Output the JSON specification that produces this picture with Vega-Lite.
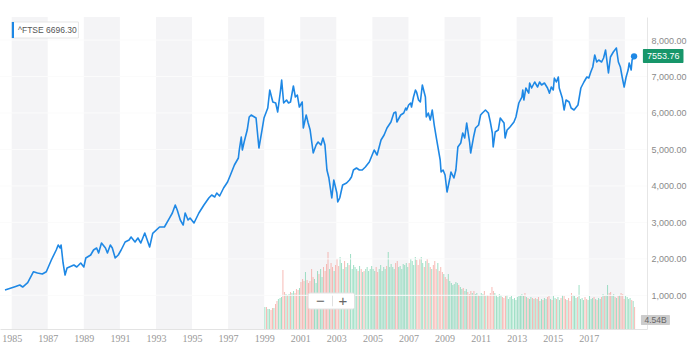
{
"$schema": "https://vega.github.io/schema/vega-lite/v6.json",
"width": 647, "height": 312,
"autosize": {"type": "none"},
"padding": {"left": 0, "top": 17, "right": 43, "bottom": 27},
"background": "white",
"config": {"view": {"stroke": null}},
"datasets": {
"bands": [{"a":1985,"b":1987},{"a":1989,"b":1991},{"a":1993,"b":1995},{"a":1997,"b":1999},{"a":2001,"b":2003},{"a":2005,"b":2007},{"a":2009,"b":2011},{"a":2013,"b":2015},{"a":2017,"b":2019}],
"grid": [{"p":1000},{"p":2000},{"p":3000},{"p":4000},{"p":5000},{"p":6000},{"p":7000},{"p":8000}],
"price": [
{"t":1984.63,"c":1146},{"t":1985.18,"c":1237},{"t":1985.45,"c":1283},{"t":1985.61,"c":1228},{"t":1985.89,"c":1346},{"t":1986.21,"c":1648},{"t":1986.43,"c":1612},{"t":1986.70,"c":1585},{"t":1986.92,"c":1648},{"t":1987.20,"c":1969},{"t":1987.47,"c":2243},{"t":1987.58,"c":2380},{"t":1987.69,"c":2298},{"t":1987.74,"c":2380},{"t":1987.85,"c":1887},{"t":1987.96,"c":1557},{"t":1988.07,"c":1749},{"t":1988.45,"c":1832},{"t":1988.61,"c":1777},{"t":1988.83,"c":1887},{"t":1989.00,"c":1777},{"t":1989.11,"c":2024},{"t":1989.38,"c":2106},{"t":1989.54,"c":2243},{"t":1989.71,"c":2298},{"t":1989.82,"c":2161},{"t":1989.98,"c":2435},{"t":1990.20,"c":2298},{"t":1990.31,"c":2161},{"t":1990.47,"c":2380},{"t":1990.58,"c":2298},{"t":1990.74,"c":2024},{"t":1990.91,"c":2106},{"t":1991.07,"c":2243},{"t":1991.29,"c":2462},{"t":1991.51,"c":2517},{"t":1991.62,"c":2599},{"t":1991.84,"c":2462},{"t":1992.00,"c":2572},{"t":1992.16,"c":2435},{"t":1992.38,"c":2709},{"t":1992.65,"c":2325},{"t":1992.82,"c":2700},{"t":1993.20,"c":2874},{"t":1993.47,"c":2874},{"t":1993.75,"c":3120},{"t":1993.91,"c":3258},{"t":1994.07,"c":3477},{"t":1994.18,"c":3340},{"t":1994.35,"c":3066},{"t":1994.51,"c":2928},{"t":1994.62,"c":3258},{"t":1994.78,"c":3066},{"t":1994.89,"c":3120},{"t":1995.11,"c":2983},{"t":1995.38,"c":3258},{"t":1995.66,"c":3477},{"t":1995.93,"c":3669},{"t":1996.09,"c":3751},{"t":1996.26,"c":3696},{"t":1996.37,"c":3806},{"t":1996.53,"c":3724},{"t":1996.75,"c":3943},{"t":1996.97,"c":4108},{"t":1997.13,"c":4299},{"t":1997.35,"c":4574},{"t":1997.57,"c":4766},{"t":1997.62,"c":4985},{"t":1997.73,"c":5341},{"t":1997.79,"c":4985},{"t":1997.89,"c":5204},{"t":1998.06,"c":5533},{"t":1998.17,"c":5890},{"t":1998.28,"c":5945},{"t":1998.55,"c":5862},{"t":1998.71,"c":5040},{"t":1998.88,"c":5533},{"t":1998.99,"c":5862},{"t":1999.20,"c":6137},{"t":1999.31,"c":6630},{"t":1999.48,"c":6301},{"t":1999.64,"c":6274},{"t":1999.75,"c":6027},{"t":1999.91,"c":6630},{"t":1999.97,"c":6904},{"t":2000.08,"c":6274},{"t":2000.24,"c":6356},{"t":2000.35,"c":6274},{"t":2000.46,"c":6301},{"t":2000.62,"c":6740},{"t":2000.73,"c":6438},{"t":2000.84,"c":6493},{"t":2000.95,"c":6164},{"t":2001.11,"c":6301},{"t":2001.17,"c":5588},{"t":2001.33,"c":5945},{"t":2001.44,"c":5725},{"t":2001.55,"c":5533},{"t":2001.72,"c":4903},{"t":2001.88,"c":5122},{"t":2001.99,"c":5204},{"t":2002.15,"c":5122},{"t":2002.26,"c":5314},{"t":2002.37,"c":5122},{"t":2002.48,"c":4437},{"t":2002.59,"c":4217},{"t":2002.75,"c":3669},{"t":2002.86,"c":4162},{"t":2003.03,"c":3806},{"t":2003.08,"c":3559},{"t":2003.19,"c":3669},{"t":2003.35,"c":4025},{"t":2003.57,"c":4080},{"t":2003.73,"c":4162},{"t":2003.84,"c":4245},{"t":2003.95,"c":4437},{"t":2004.12,"c":4491},{"t":2004.28,"c":4437},{"t":2004.44,"c":4437},{"t":2004.61,"c":4519},{"t":2004.83,"c":4656},{"t":2005.10,"c":4985},{"t":2005.26,"c":4848},{"t":2005.48,"c":5259},{"t":2005.65,"c":5396},{"t":2005.81,"c":5588},{"t":2006.03,"c":5753},{"t":2006.19,"c":5999},{"t":2006.30,"c":6027},{"t":2006.36,"c":5753},{"t":2006.57,"c":5945},{"t":2006.74,"c":5999},{"t":2006.85,"c":6137},{"t":2006.90,"c":6082},{"t":2007.01,"c":6219},{"t":2007.12,"c":6274},{"t":2007.17,"c":6164},{"t":2007.28,"c":6438},{"t":2007.39,"c":6630},{"t":2007.45,"c":6575},{"t":2007.56,"c":6356},{"t":2007.66,"c":6301},{"t":2007.77,"c":6767},{"t":2007.94,"c":6438},{"t":2007.99,"c":5890},{"t":2008.10,"c":5999},{"t":2008.21,"c":5808},{"t":2008.32,"c":6082},{"t":2008.43,"c":5670},{"t":2008.54,"c":5341},{"t":2008.76,"c":4711},{"t":2008.81,"c":4382},{"t":2008.92,"c":4437},{"t":2009.03,"c":4299},{"t":2009.14,"c":3833},{"t":2009.30,"c":4217},{"t":2009.36,"c":4382},{"t":2009.52,"c":4217},{"t":2009.63,"c":4437},{"t":2009.74,"c":5067},{"t":2009.90,"c":5177},{"t":2010.01,"c":5451},{"t":2010.12,"c":5314},{"t":2010.23,"c":5725},{"t":2010.39,"c":5204},{"t":2010.45,"c":4903},{"t":2010.61,"c":5341},{"t":2010.72,"c":5588},{"t":2010.89,"c":5670},{"t":2011.00,"c":5945},{"t":2011.10,"c":5999},{"t":2011.27,"c":6082},{"t":2011.43,"c":5999},{"t":2011.54,"c":5753},{"t":2011.65,"c":5451},{"t":2011.70,"c":5067},{"t":2011.81,"c":5479},{"t":2011.98,"c":5533},{"t":2012.09,"c":5862},{"t":2012.30,"c":5725},{"t":2012.36,"c":5314},{"t":2012.47,"c":5533},{"t":2012.63,"c":5616},{"t":2012.85,"c":5753},{"t":2012.96,"c":5890},{"t":2013.12,"c":6274},{"t":2013.29,"c":6438},{"t":2013.34,"c":6630},{"t":2013.40,"c":6356},{"t":2013.51,"c":6685},{"t":2013.67,"c":6544},{"t":2013.72,"c":6822},{"t":2013.83,"c":6685},{"t":2014.00,"c":6850},{"t":2014.16,"c":6712},{"t":2014.27,"c":6850},{"t":2014.38,"c":6767},{"t":2014.54,"c":6822},{"t":2014.71,"c":6685},{"t":2014.82,"c":6544},{"t":2014.92,"c":6712},{"t":2015.03,"c":6630},{"t":2015.09,"c":6959},{"t":2015.20,"c":6850},{"t":2015.31,"c":6987},{"t":2015.36,"c":6685},{"t":2015.53,"c":6411},{"t":2015.63,"c":6082},{"t":2015.74,"c":6356},{"t":2015.91,"c":6301},{"t":2016.02,"c":6137},{"t":2016.18,"c":6082},{"t":2016.40,"c":6219},{"t":2016.56,"c":6685},{"t":2016.73,"c":6850},{"t":2016.89,"c":6987},{"t":2017.00,"c":6959},{"t":2017.11,"c":7124},{"t":2017.22,"c":7261},{"t":2017.33,"c":7590},{"t":2017.44,"c":7398},{"t":2017.55,"c":7453},{"t":2017.71,"c":7398},{"t":2017.82,"c":7508},{"t":2017.93,"c":7727},{"t":2018.09,"c":7100},{"t":2018.20,"c":7535},{"t":2018.36,"c":7672},{"t":2018.53,"c":7782},{"t":2018.64,"c":7398},{"t":2018.75,"c":7261},{"t":2018.85,"c":6987},{"t":2018.96,"c":6712},{"t":2019.07,"c":6987},{"t":2019.18,"c":7178},{"t":2019.24,"c":7371},{"t":2019.35,"c":7178},{"t":2019.40,"c":7453},{"t":2019.51,"c":7554}
],
"vol": [
{"t":1999.04,"v":4.4,"d":"u"},{"t":1999.13,"v":4.4,"d":"d"},{"t":1999.21,"v":4.0,"d":"u"},{"t":1999.29,"v":4.0,"d":"u"},{"t":1999.38,"v":3.8,"d":"d"},{"t":1999.46,"v":4.2,"d":"d"},{"t":1999.54,"v":4.2,"d":"u"},{"t":1999.63,"v":5.0,"d":"d"},{"t":1999.71,"v":5.6,"d":"d"},{"t":1999.79,"v":6.0,"d":"u"},{"t":1999.88,"v":6.2,"d":"u"},{"t":1999.96,"v":6.4,"d":"u"},
{"t":2000.04,"v":11.8,"d":"d"},{"t":2000.13,"v":7.4,"d":"d"},{"t":2000.21,"v":7.0,"d":"u"},{"t":2000.29,"v":6.8,"d":"d"},{"t":2000.38,"v":7.0,"d":"u"},{"t":2000.46,"v":7.4,"d":"d"},{"t":2000.54,"v":7.2,"d":"u"},{"t":2000.63,"v":7.6,"d":"u"},{"t":2000.71,"v":7.2,"d":"d"},{"t":2000.79,"v":8.0,"d":"d"},{"t":2000.88,"v":7.8,"d":"d"},{"t":2000.96,"v":8.2,"d":"u"},
{"t":2001.04,"v":9.4,"d":"d"},{"t":2001.13,"v":10.0,"d":"d"},{"t":2001.21,"v":9.6,"d":"d"},{"t":2001.29,"v":11.4,"d":"u"},{"t":2001.38,"v":9.8,"d":"d"},{"t":2001.46,"v":9.2,"d":"d"},{"t":2001.54,"v":9.6,"d":"d"},{"t":2001.63,"v":12.0,"d":"d"},{"t":2001.71,"v":10.4,"d":"d"},{"t":2001.79,"v":10.0,"d":"u"},{"t":2001.88,"v":9.2,"d":"u"},{"t":2001.96,"v":11.6,"d":"u"},
{"t":2002.04,"v":11.0,"d":"d"},{"t":2002.13,"v":12.0,"d":"u"},{"t":2002.21,"v":10.4,"d":"u"},{"t":2002.29,"v":12.4,"d":"d"},{"t":2002.38,"v":11.6,"d":"d"},{"t":2002.46,"v":13.0,"d":"d"},{"t":2002.54,"v":15.4,"d":"d"},{"t":2002.63,"v":12.0,"d":"u"},{"t":2002.71,"v":13.2,"d":"d"},{"t":2002.79,"v":12.4,"d":"d"},{"t":2002.88,"v":11.6,"d":"u"},{"t":2002.96,"v":12.8,"d":"d"},
{"t":2003.04,"v":14.0,"d":"d"},{"t":2003.13,"v":12.6,"d":"d"},{"t":2003.21,"v":14.4,"d":"u"},{"t":2003.29,"v":13.2,"d":"u"},{"t":2003.38,"v":12.0,"d":"u"},{"t":2003.46,"v":13.6,"d":"d"},{"t":2003.54,"v":12.4,"d":"u"},{"t":2003.63,"v":13.2,"d":"u"},{"t":2003.71,"v":12.8,"d":"d"},{"t":2003.79,"v":15.0,"d":"u"},{"t":2003.88,"v":12.0,"d":"u"},{"t":2003.96,"v":12.8,"d":"u"},
{"t":2004.04,"v":12.4,"d":"u"},{"t":2004.13,"v":12.0,"d":"u"},{"t":2004.21,"v":11.6,"d":"d"},{"t":2004.29,"v":12.6,"d":"u"},{"t":2004.38,"v":12.0,"d":"d"},{"t":2004.46,"v":11.4,"d":"u"},{"t":2004.54,"v":11.6,"d":"d"},{"t":2004.63,"v":12.0,"d":"u"},{"t":2004.71,"v":12.4,"d":"u"},{"t":2004.79,"v":11.6,"d":"u"},{"t":2004.88,"v":12.0,"d":"u"},{"t":2004.96,"v":12.6,"d":"u"},
{"t":2005.04,"v":12.0,"d":"u"},{"t":2005.13,"v":11.6,"d":"u"},{"t":2005.21,"v":12.4,"d":"d"},{"t":2005.29,"v":11.4,"d":"d"},{"t":2005.38,"v":12.0,"d":"u"},{"t":2005.46,"v":12.8,"d":"u"},{"t":2005.54,"v":11.6,"d":"u"},{"t":2005.63,"v":12.4,"d":"u"},{"t":2005.71,"v":12.0,"d":"u"},{"t":2005.79,"v":12.6,"d":"d"},{"t":2005.88,"v":15.4,"d":"u"},{"t":2005.96,"v":12.4,"d":"u"},
{"t":2006.04,"v":13.0,"d":"u"},{"t":2006.13,"v":12.4,"d":"u"},{"t":2006.21,"v":12.0,"d":"u"},{"t":2006.29,"v":13.2,"d":"d"},{"t":2006.38,"v":13.6,"d":"d"},{"t":2006.46,"v":12.4,"d":"u"},{"t":2006.54,"v":12.6,"d":"u"},{"t":2006.63,"v":12.0,"d":"u"},{"t":2006.71,"v":13.0,"d":"u"},{"t":2006.79,"v":12.8,"d":"u"},{"t":2006.88,"v":13.2,"d":"u"},{"t":2006.96,"v":12.4,"d":"u"},
{"t":2007.04,"v":13.2,"d":"d"},{"t":2007.13,"v":14.0,"d":"u"},{"t":2007.21,"v":13.6,"d":"u"},{"t":2007.29,"v":12.8,"d":"u"},{"t":2007.38,"v":14.4,"d":"u"},{"t":2007.46,"v":13.8,"d":"d"},{"t":2007.54,"v":12.8,"d":"d"},{"t":2007.63,"v":14.0,"d":"d"},{"t":2007.71,"v":14.4,"d":"u"},{"t":2007.79,"v":13.2,"d":"u"},{"t":2007.88,"v":12.4,"d":"d"},{"t":2007.96,"v":13.6,"d":"u"},
{"t":2008.04,"v":14.0,"d":"d"},{"t":2008.13,"v":13.2,"d":"u"},{"t":2008.21,"v":12.4,"d":"d"},{"t":2008.29,"v":12.0,"d":"u"},{"t":2008.38,"v":12.8,"d":"d"},{"t":2008.46,"v":13.6,"d":"d"},{"t":2008.54,"v":12.0,"d":"d"},{"t":2008.63,"v":13.2,"d":"u"},{"t":2008.71,"v":11.6,"d":"d"},{"t":2008.79,"v":12.4,"d":"d"},{"t":2008.88,"v":11.4,"d":"d"},{"t":2008.96,"v":11.0,"d":"u"},
{"t":2009.04,"v":10.4,"d":"d"},{"t":2009.13,"v":10.0,"d":"d"},{"t":2009.21,"v":11.0,"d":"u"},{"t":2009.29,"v":9.6,"d":"u"},{"t":2009.38,"v":9.2,"d":"u"},{"t":2009.46,"v":8.8,"d":"u"},{"t":2009.54,"v":9.0,"d":"u"},{"t":2009.63,"v":9.4,"d":"u"},{"t":2009.71,"v":9.2,"d":"u"},{"t":2009.79,"v":8.8,"d":"d"},{"t":2009.88,"v":8.4,"d":"u"},{"t":2009.96,"v":8.0,"d":"u"},
{"t":2010.04,"v":8.2,"d":"d"},{"t":2010.13,"v":7.6,"d":"u"},{"t":2010.21,"v":8.0,"d":"u"},{"t":2010.29,"v":7.4,"d":"d"},{"t":2010.38,"v":7.0,"d":"d"},{"t":2010.46,"v":7.6,"d":"d"},{"t":2010.54,"v":7.2,"d":"u"},{"t":2010.63,"v":7.6,"d":"d"},{"t":2010.71,"v":7.0,"d":"u"},{"t":2010.79,"v":7.2,"d":"u"},{"t":2010.88,"v":6.8,"d":"d"},{"t":2010.96,"v":6.6,"d":"u"},
{"t":2011.04,"v":7.2,"d":"u"},{"t":2011.13,"v":7.0,"d":"u"},{"t":2011.21,"v":7.6,"d":"d"},{"t":2011.29,"v":6.6,"d":"u"},{"t":2011.38,"v":6.8,"d":"d"},{"t":2011.46,"v":6.6,"d":"d"},{"t":2011.54,"v":7.2,"d":"d"},{"t":2011.63,"v":8.4,"d":"d"},{"t":2011.71,"v":7.6,"d":"d"},{"t":2011.79,"v":7.2,"d":"u"},{"t":2011.88,"v":6.8,"d":"u"},{"t":2011.96,"v":6.4,"d":"u"},
{"t":2012.04,"v":7.0,"d":"u"},{"t":2012.13,"v":6.8,"d":"u"},{"t":2012.21,"v":6.4,"d":"d"},{"t":2012.29,"v":6.2,"d":"d"},{"t":2012.38,"v":6.6,"d":"d"},{"t":2012.46,"v":6.8,"d":"u"},{"t":2012.54,"v":6.0,"d":"u"},{"t":2012.63,"v":6.4,"d":"u"},{"t":2012.71,"v":6.6,"d":"u"},{"t":2012.79,"v":6.0,"d":"u"},{"t":2012.88,"v":6.2,"d":"u"},{"t":2012.96,"v":5.8,"d":"u"},
{"t":2013.04,"v":6.4,"d":"u"},{"t":2013.13,"v":6.6,"d":"u"},{"t":2013.21,"v":6.8,"d":"u"},{"t":2013.29,"v":7.0,"d":"u"},{"t":2013.38,"v":6.6,"d":"u"},{"t":2013.46,"v":7.2,"d":"d"},{"t":2013.54,"v":6.4,"d":"u"},{"t":2013.63,"v":6.2,"d":"d"},{"t":2013.71,"v":6.0,"d":"u"},{"t":2013.79,"v":6.4,"d":"u"},{"t":2013.88,"v":6.2,"d":"d"},{"t":2013.96,"v":6.0,"d":"u"},
{"t":2014.04,"v":6.2,"d":"d"},{"t":2014.13,"v":6.0,"d":"u"},{"t":2014.21,"v":6.4,"d":"d"},{"t":2014.29,"v":5.6,"d":"u"},{"t":2014.38,"v":6.0,"d":"u"},{"t":2014.46,"v":5.8,"d":"d"},{"t":2014.54,"v":6.2,"d":"u"},{"t":2014.63,"v":6.0,"d":"u"},{"t":2014.71,"v":6.4,"d":"d"},{"t":2014.79,"v":6.6,"d":"d"},{"t":2014.88,"v":6.0,"d":"u"},{"t":2014.96,"v":5.8,"d":"d"},
{"t":2015.04,"v":6.6,"d":"u"},{"t":2015.13,"v":6.2,"d":"u"},{"t":2015.21,"v":6.0,"d":"d"},{"t":2015.29,"v":6.4,"d":"u"},{"t":2015.38,"v":5.8,"d":"u"},{"t":2015.46,"v":6.2,"d":"d"},{"t":2015.54,"v":6.8,"d":"u"},{"t":2015.63,"v":6.6,"d":"d"},{"t":2015.71,"v":6.0,"d":"d"},{"t":2015.79,"v":5.8,"d":"u"},{"t":2015.88,"v":6.2,"d":"d"},{"t":2015.96,"v":5.6,"d":"d"},
{"t":2016.04,"v":7.2,"d":"d"},{"t":2016.13,"v":6.8,"d":"u"},{"t":2016.21,"v":6.6,"d":"u"},{"t":2016.29,"v":6.2,"d":"u"},{"t":2016.38,"v":6.4,"d":"d"},{"t":2016.46,"v":8.8,"d":"u"},{"t":2016.54,"v":6.0,"d":"u"},{"t":2016.63,"v":6.2,"d":"u"},{"t":2016.71,"v":5.8,"d":"u"},{"t":2016.79,"v":6.4,"d":"d"},{"t":2016.88,"v":6.0,"d":"d"},{"t":2016.96,"v":5.8,"d":"u"},
{"t":2017.04,"v":6.6,"d":"u"},{"t":2017.13,"v":6.0,"d":"u"},{"t":2017.21,"v":6.2,"d":"u"},{"t":2017.29,"v":6.4,"d":"d"},{"t":2017.38,"v":6.0,"d":"u"},{"t":2017.46,"v":5.8,"d":"d"},{"t":2017.54,"v":6.2,"d":"u"},{"t":2017.63,"v":6.0,"d":"u"},{"t":2017.71,"v":6.4,"d":"d"},{"t":2017.79,"v":7.0,"d":"u"},{"t":2017.88,"v":6.6,"d":"d"},{"t":2017.96,"v":6.8,"d":"u"},
{"t":2018.04,"v":8.8,"d":"u"},{"t":2018.13,"v":7.2,"d":"d"},{"t":2018.21,"v":7.4,"d":"d"},{"t":2018.29,"v":6.6,"d":"u"},{"t":2018.38,"v":7.0,"d":"u"},{"t":2018.46,"v":6.4,"d":"d"},{"t":2018.54,"v":6.2,"d":"u"},{"t":2018.63,"v":6.6,"d":"d"},{"t":2018.71,"v":6.8,"d":"u"},{"t":2018.79,"v":7.2,"d":"d"},{"t":2018.88,"v":7.0,"d":"d"},{"t":2018.96,"v":6.0,"d":"d"},
{"t":2019.04,"v":6.6,"d":"u"},{"t":2019.13,"v":6.4,"d":"u"},{"t":2019.21,"v":6.0,"d":"u"},{"t":2019.29,"v":6.2,"d":"u"},{"t":2019.38,"v":5.8,"d":"d"},{"t":2019.46,"v":5.6,"d":"u"},{"t":2019.54,"v":4.4,"d":"d"}
]
},
"resolve": {"scale": {"y": "independent"}, "axis": {"y": "independent"}},
"layer": [
{
"data": {"name": "bands"},
"mark": {"type": "rect", "color": "#f4f4f6"},
"encoding": {
"x": {"field": "a", "type": "quantitative", "title": null, "scale": {"domain": [1984.63, 2019.95], "nice": false, "zero": false},
 "axis": {"values": [1985,1987,1989,1991,1993,1995,1997,1999,2001,2003,2005,2007,2009,2011,2013,2015,2017], "format": "d", "title": null, "labelFont": "Liberation Serif", "labelFontSize": 10, "labelColor": "#999999", "domainColor": "#e3e3e3", "ticks": false, "grid": false, "labelPadding": 4, "labelFlush": false, "labelOverlap": false, "labelBound": false}},
"x2": {"field": "b"}
}
},
{
"data": {"name": "vol"},
"mark": {"type": "bar", "width": 1, "opacity": 0.75},
"encoding": {
"x": {"field": "t", "type": "quantitative", "title": null, "scale": {"domain": [1984.63, 2019.95], "nice": false, "zero": false}},
"y": {"field": "v", "type": "quantitative", "scale": {"domain": [0, 62.4], "nice": false}, "axis": null},
"color": {"field": "d", "type": "nominal", "scale": {"domain": ["u", "d"], "range": ["#7fd4b1", "#f4a39c"]}, "legend": null}
}
},
{
"layer": [
{
"data": {"name": "grid"},
"mark": {"type": "rule", "color": "#fbfbfb", "strokeWidth": 1},
"encoding": {
"y": {"field": "p", "type": "quantitative", "title": null, "scale": {"domain": [77, 8632], "nice": false, "zero": false},
 "axis": {"orient": "right", "values": [1000,2000,3000,4000,5000,6000,7000,8000], "format": ",.2f", "title": null, "labelFont": "Liberation Sans", "labelFontSize": 9, "labelColor": "#8a8a8a", "domainColor": "#e6e6e6", "ticks": false, "grid": false, "labelPadding": 4}}
}
},
{
"data": {"values": [{}]},
"mark": {"type": "rect", "fill": "white", "stroke": "#e2e2e2", "strokeWidth": 1, "cornerRadius": 2},
"encoding": {
"x": {"datum": 2001.44, "type": "quantitative", "title": null, "scale": {"domain": [1984.63, 2019.95], "nice": false, "zero": false}},
"x2": {"datum": 2004.01},
"y": {"datum": 625, "type": "quantitative", "title": null, "scale": {"domain": [77, 8632], "nice": false, "zero": false}},
"y2": {"datum": 1064}
}
},
{
"data": {"values": [{}]},
"mark": {"type": "rule", "color": "#e0e0e0"},
"encoding": {
"x": {"datum": 2002.79, "type": "quantitative", "title": null, "scale": {"domain": [1984.63, 2019.95], "nice": false, "zero": false}},
"y": {"datum": 700, "type": "quantitative", "title": null, "scale": {"domain": [77, 8632], "nice": false, "zero": false}},
"y2": {"datum": 990}
}
},
{
"data": {"values": [{}]},
"mark": {"type": "text", "text": "−", "fontSize": 15, "color": "#666666", "font": "Liberation Sans", "baseline": "middle"},
"encoding": {
"x": {"datum": 2002.12, "type": "quantitative", "title": null, "scale": {"domain": [1984.63, 2019.95], "nice": false, "zero": false}},
"y": {"datum": 845, "type": "quantitative", "title": null, "scale": {"domain": [77, 8632], "nice": false, "zero": false}}
}
},
{
"data": {"values": [{}]},
"mark": {"type": "text", "text": "+", "fontSize": 15, "color": "#666666", "font": "Liberation Sans", "baseline": "middle"},
"encoding": {
"x": {"datum": 2003.37, "type": "quantitative", "title": null, "scale": {"domain": [1984.63, 2019.95], "nice": false, "zero": false}},
"y": {"datum": 845, "type": "quantitative", "title": null, "scale": {"domain": [77, 8632], "nice": false, "zero": false}}
}
},
{
"data": {"name": "price"},
"mark": {"type": "line", "color": "#1e88e5", "strokeWidth": 1.6, "strokeJoin": "round"},
"encoding": {
"x": {"field": "t", "type": "quantitative", "title": null, "scale": {"domain": [1984.63, 2019.95], "nice": false, "zero": false}},
"y": {"field": "c", "type": "quantitative", "title": null, "scale": {"domain": [77, 8632], "nice": false, "zero": false}}
}
},
{
"data": {"values": [{}]},
"mark": {"type": "point", "filled": true, "color": "#1e88e5", "size": 40, "opacity": 1},
"encoding": {
"x": {"datum": 2019.51, "type": "quantitative", "title": null, "scale": {"domain": [1984.63, 2019.95], "nice": false, "zero": false}},
"y": {"datum": 7554, "type": "quantitative", "title": null, "scale": {"domain": [77, 8632], "nice": false, "zero": false}}
}
},
{
"data": {"values": [{}]},
"mark": {"type": "rect", "fill": "white", "stroke": "#e6e6e6", "strokeWidth": 1},
"encoding": {
"x": {"datum": 1985.01, "type": "quantitative", "title": null, "scale": {"domain": [1984.63, 2019.95], "nice": false, "zero": false}},
"x2": {"datum": 1988.7},
"y": {"datum": 8056, "type": "quantitative", "title": null, "scale": {"domain": [77, 8632], "nice": false, "zero": false}},
"y2": {"datum": 8495}
}
},
{
"data": {"values": [{}]},
"mark": {"type": "rect", "fill": "#1e88e5"},
"encoding": {
"x": {"datum": 1985.01, "type": "quantitative", "title": null, "scale": {"domain": [1984.63, 2019.95], "nice": false, "zero": false}},
"x2": {"datum": 1985.13},
"y": {"datum": 8056, "type": "quantitative", "title": null, "scale": {"domain": [77, 8632], "nice": false, "zero": false}},
"y2": {"datum": 8495}
}
},
{
"data": {"values": [{}]},
"mark": {"type": "text", "text": "^FTSE 6696.30", "fontSize": 8.5, "color": "#555555", "font": "Liberation Sans", "align": "left", "baseline": "middle"},
"encoding": {
"x": {"datum": 1985.35, "type": "quantitative", "title": null, "scale": {"domain": [1984.63, 2019.95], "nice": false, "zero": false}},
"y": {"datum": 8275, "type": "quantitative", "title": null, "scale": {"domain": [77, 8632], "nice": false, "zero": false}}
}
},
{
"data": {"values": [{}]},
"mark": {"type": "rect", "fill": "#17966a", "cornerRadius": 1},
"encoding": {
"x": {"datum": 2020.0, "type": "quantitative", "title": null, "scale": {"domain": [1984.63, 2019.95], "nice": false, "zero": false}},
"x2": {"datum": 2022.25},
"y": {"datum": 7370, "type": "quantitative", "title": null, "scale": {"domain": [77, 8632], "nice": false, "zero": false}},
"y2": {"datum": 7754}
}
},
{
"data": {"values": [{}]},
"mark": {"type": "text", "text": "7553.76", "fontSize": 9, "color": "white", "font": "Liberation Sans", "align": "center", "baseline": "middle"},
"encoding": {
"x": {"datum": 2021.13, "type": "quantitative", "title": null, "scale": {"domain": [1984.63, 2019.95], "nice": false, "zero": false}},
"y": {"datum": 7562, "type": "quantitative", "title": null, "scale": {"domain": [77, 8632], "nice": false, "zero": false}}
}
},
{
"data": {"values": [{}]},
"mark": {"type": "rect", "fill": "#cccccc", "cornerRadius": 1},
"encoding": {
"x": {"datum": 2019.89, "type": "quantitative", "title": null, "scale": {"domain": [1984.63, 2019.95], "nice": false, "zero": false}},
"x2": {"datum": 2021.5},
"y": {"datum": 190, "type": "quantitative", "title": null, "scale": {"domain": [77, 8632], "nice": false, "zero": false}},
"y2": {"datum": 460}
}
},
{
"data": {"values": [{}]},
"mark": {"type": "text", "text": "4.54B", "fontSize": 8.5, "color": "#666666", "font": "Liberation Sans", "align": "center", "baseline": "middle"},
"encoding": {
"x": {"datum": 2020.7, "type": "quantitative", "title": null, "scale": {"domain": [1984.63, 2019.95], "nice": false, "zero": false}},
"y": {"datum": 325, "type": "quantitative", "title": null, "scale": {"domain": [77, 8632], "nice": false, "zero": false}}
}
}
]
}
]
}
